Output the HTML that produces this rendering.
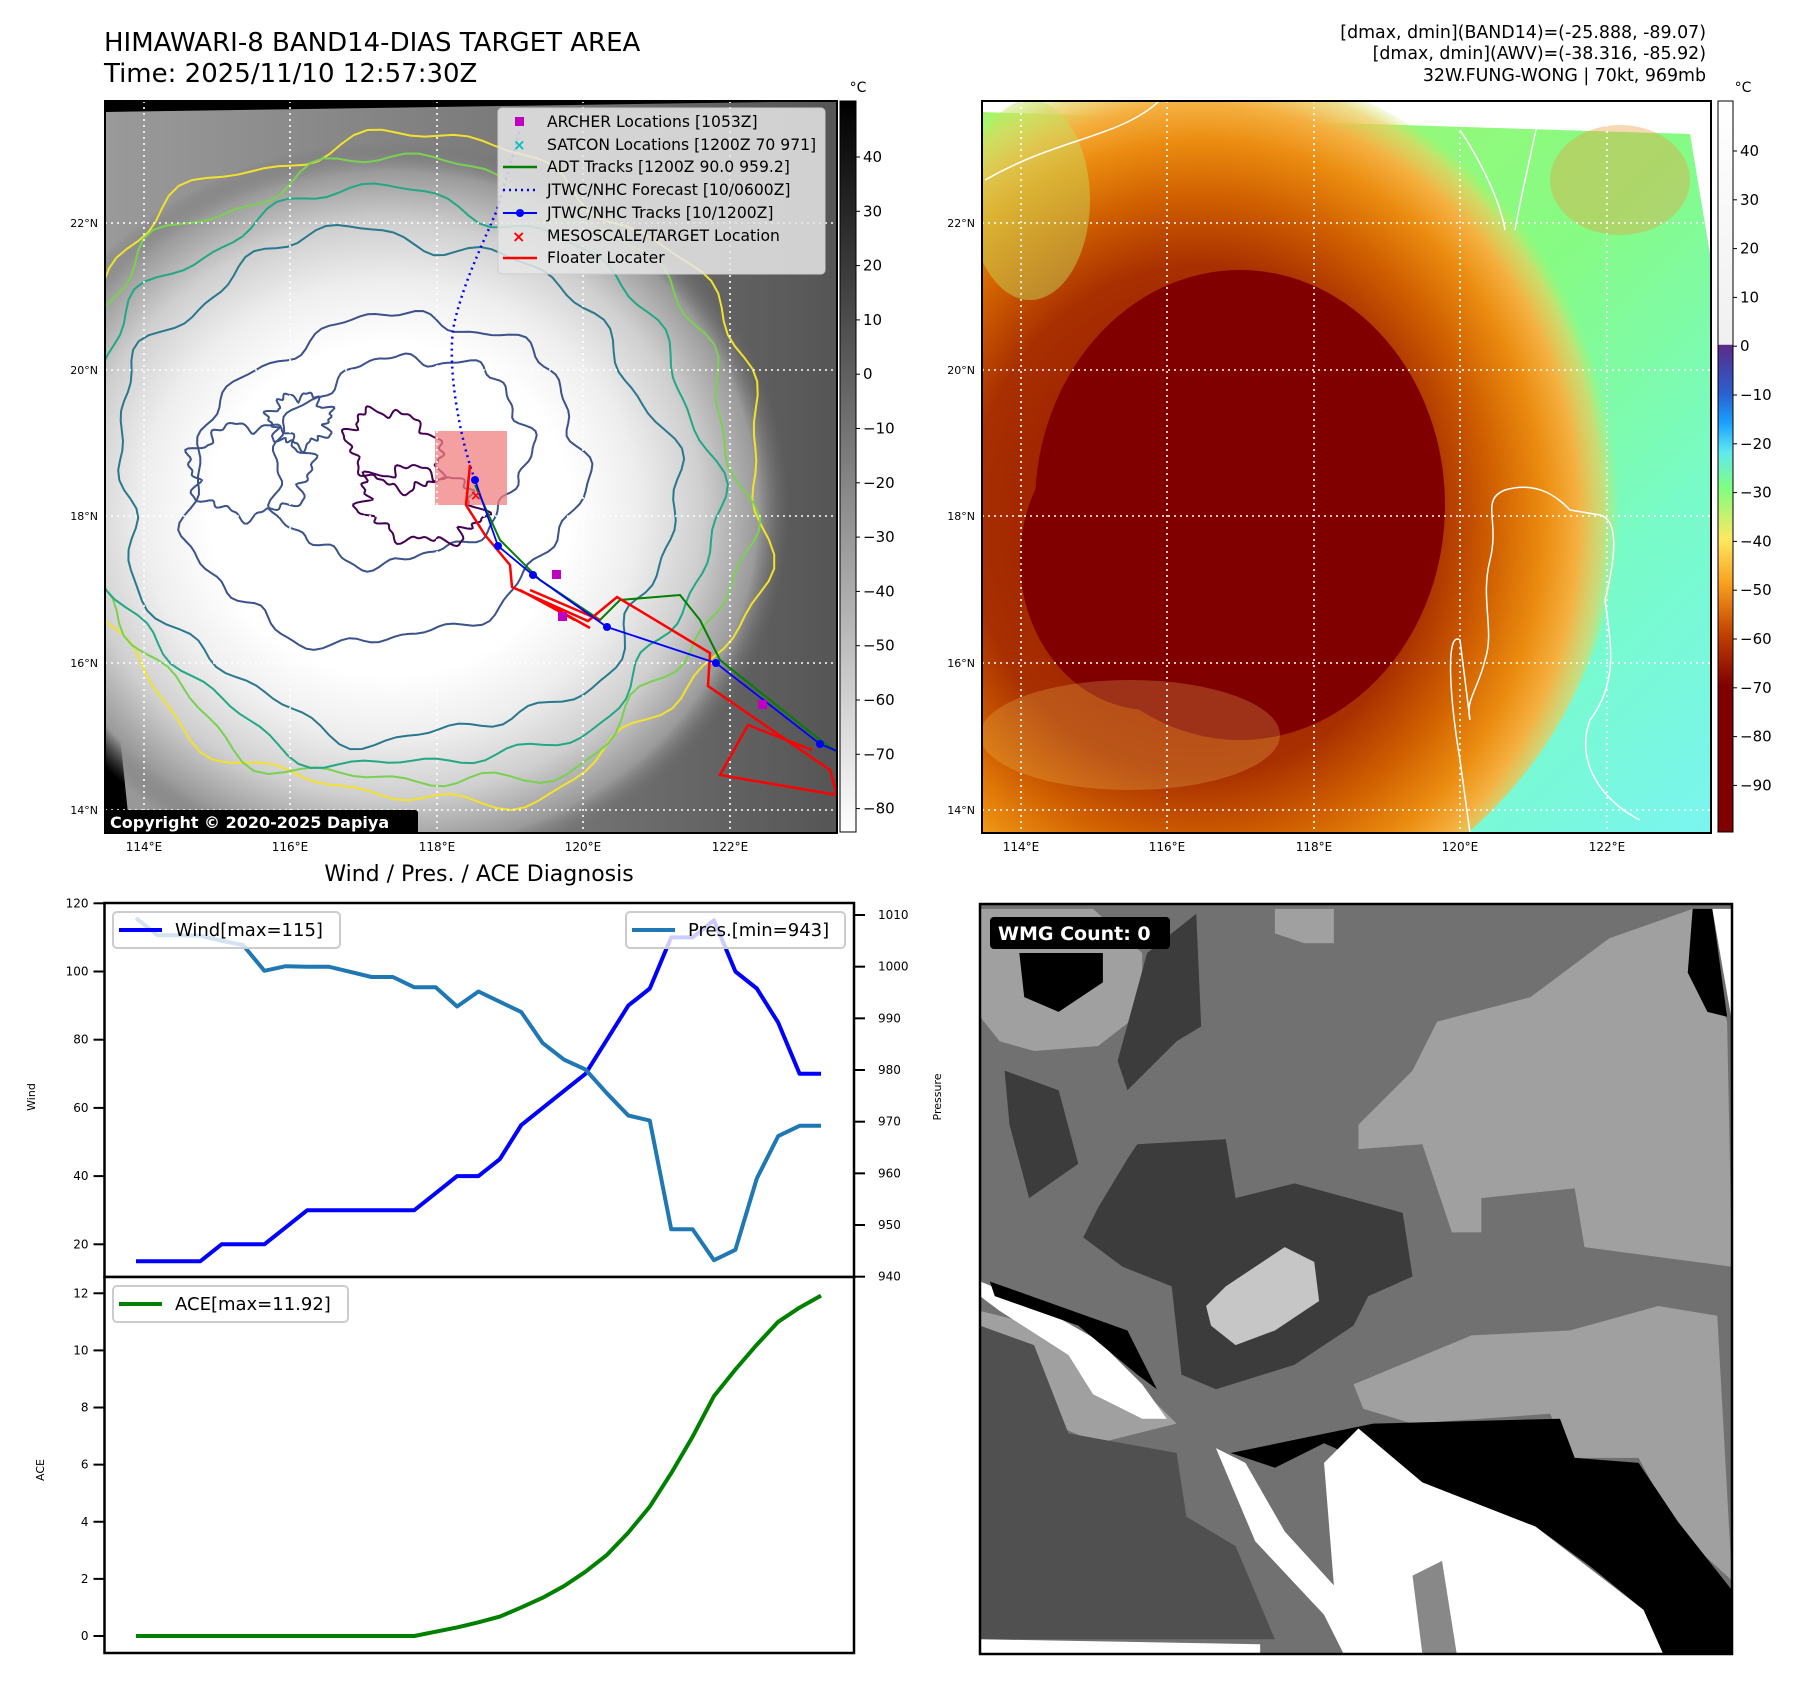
<!DOCTYPE html>
<html><head><meta charset="utf-8">
<style>
html,body{margin:0;padding:0;background:#fff;}
svg{display:block;font-family:"DejaVu Sans","Liberation Sans",sans-serif;}
</style></head>
<body>
<svg id="fig" width="1797" height="1690" viewBox="0 0 1797 1690" xmlns="http://www.w3.org/2000/svg">
<defs>
  <clipPath id="clipL"><rect x="105" y="101" width="732" height="732"/></clipPath>
  <clipPath id="clipR"><rect x="982" y="101" width="729" height="732"/></clipPath>
  <clipPath id="clipB"><rect x="980" y="904" width="752" height="750"/></clipPath>
  <radialGradient id="cloudWhite" gradientUnits="userSpaceOnUse" cx="390" cy="510" r="400" gradientTransform="translate(390 510) scale(1 0.92) translate(-390 -510)">
    <stop offset="0" stop-color="#ffffff"/>
    <stop offset="0.45" stop-color="#ffffff"/>
    <stop offset="0.62" stop-color="#eeeeee"/>
    <stop offset="0.78" stop-color="#cfcfcf"/>
    <stop offset="0.92" stop-color="#9a9a9a"/>
    <stop offset="1" stop-color="#6a6a6a" stop-opacity="0"/>
  </radialGradient>
  <linearGradient id="bgL" x1="0" y1="0" x2="1" y2="0">
    <stop offset="0" stop-color="#9a9a9a"/>
    <stop offset="0.6" stop-color="#777"/>
    <stop offset="1" stop-color="#555"/>
  </linearGradient>
  <linearGradient id="bgR" x1="0" y1="0" x2="1" y2="1">
    <stop offset="0" stop-color="#a8f56a"/>
    <stop offset="0.5" stop-color="#86fb84"/>
    <stop offset="0.75" stop-color="#78fbc8"/>
    <stop offset="1" stop-color="#7af5f0"/>
  </linearGradient>
  <radialGradient id="ringR" gradientUnits="userSpaceOnUse" cx="1200" cy="520" r="420" gradientTransform="translate(1200 520) scale(1 1.1) translate(-1200 -520)">
    <stop offset="0" stop-color="#900800"/>
    <stop offset="0.55" stop-color="#a83000"/>
    <stop offset="0.7" stop-color="#d06000"/>
    <stop offset="0.82" stop-color="#eb8c10"/>
    <stop offset="0.9" stop-color="#f5b040"/>
    <stop offset="0.96" stop-color="#e8d060" stop-opacity="0.7"/>
    <stop offset="1" stop-color="#c0f060" stop-opacity="0"/>
  </radialGradient>
  <linearGradient id="cbGray" x1="0" y1="0" x2="0" y2="1">
    <stop offset="0" stop-color="#000"/>
    <stop offset="1" stop-color="#fff"/>
  </linearGradient>
  <linearGradient id="cbColor" x1="0" y1="0" x2="0" y2="1">
    <stop offset="0" stop-color="#ffffff"/>
    <stop offset="0.333" stop-color="#f0f0f0"/>
    <stop offset="0.334" stop-color="#5a2a8a"/>
    <stop offset="0.40" stop-color="#2a60d0"/>
    <stop offset="0.44" stop-color="#1aa0ff"/>
    <stop offset="0.48" stop-color="#60e8f0"/>
    <stop offset="0.53" stop-color="#80ff80"/>
    <stop offset="0.6" stop-color="#ffe860"/>
    <stop offset="0.66" stop-color="#f8a020"/>
    <stop offset="0.73" stop-color="#c04000"/>
    <stop offset="0.8" stop-color="#800000"/>
    <stop offset="1" stop-color="#800000"/>
  </linearGradient>
</defs>

<!-- Header text -->
<text x="104" y="51" font-size="26">HIMAWARI-8 BAND14-DIAS TARGET AREA</text>
<text x="104" y="82" font-size="26">Time: 2025/11/10 12:57:30Z</text>
<text x="1706" y="38" font-size="17.4" text-anchor="end">[dmax, dmin](BAND14)=(-25.888, -89.07)</text>
<text x="1706" y="59" font-size="17.4" text-anchor="end">[dmax, dmin](AWV)=(-38.316, -85.92)</text>
<text x="1706" y="81" font-size="17.4" text-anchor="end">32W.FUNG-WONG | 70kt, 969mb</text>

<!-- LEFT MAP -->
<g clip-path="url(#clipL)">
  <rect x="105" y="101" width="732" height="732" fill="#000"/>
  <polygon points="106,112 837,101 837,833 130,833 106,600" fill="url(#bgL)"/>
  <rect x="105" y="101" width="732" height="732" fill="url(#cloudWhite)"/>
  <g id="contoursL" fill="none" stroke-width="2"></g>
  <rect x="435" y="431" width="72" height="74" fill="#f08080" opacity="0.75"/>
  <g id="gridL" stroke="#fff" stroke-width="1.6" stroke-dasharray="2,4"></g>
  <path d="M475,480 C460,440 445,360 455,320 C465,280 480,250 497,210 L520,130" fill="none" stroke="#0000ff" stroke-width="2.5" stroke-dasharray="2,4"/>
  <path d="M475,485 L500,540 L540,580 L600,620 L620,600 L680,595 L700,620 L720,660 L770,700 L820,740 L837,752" fill="none" stroke="#008000" stroke-width="2"/>
  <path d="M470,465 L466,505 L485,535 L510,565 L512,587 L588,621 L617,597 L710,653 L708,686 L830,770 L837,795 L720,775 L748,725 L812,750 M530,590 L600,620 M540,600 L590,628 M520,590 L575,620" fill="none" stroke="#ff0000" stroke-width="2.5"/>
  <polyline points="475,480 498,546 533,575 607,627 716,663 820,744 837,751" fill="none" stroke="#0000ff" stroke-width="1.8"/>
  <g fill="#0000ff">
    <circle cx="475" cy="480" r="4"/><circle cx="498" cy="546" r="4"/><circle cx="533" cy="575" r="4"/><circle cx="607" cy="627" r="4"/><circle cx="716" cy="663" r="4"/><circle cx="820" cy="744" r="4"/>
  </g>
  <g fill="#c000c0"><rect x="552" y="570" width="9" height="9"/><rect x="558" y="612" width="9" height="9"/><rect x="758" y="700" width="9" height="9"/></g>
  <text x="470" y="500" fill="#ff0000" font-size="14" font-weight="bold">×</text>
  <rect x="104" y="810" width="314" height="24" rx="3" fill="#000"/>
  <text x="110" y="828" font-size="16" font-weight="bold" fill="#fff">Copyright © 2020-2025 Dapiya</text>
</g>
<rect x="105" y="101" width="732" height="732" fill="none" stroke="#000" stroke-width="2"/>

<!-- Legend for left map -->
<g>
  <rect x="498" y="108" width="327" height="166" rx="4" fill="#e6e6e6" fill-opacity="0.85" stroke="#ccc"/>
  <rect x="515" y="117" width="9" height="9" fill="#c000c0"/>
  <text x="513" y="150" fill="#00c0c0" font-size="15" font-weight="bold">×</text>
  <line x1="503" y1="167" x2="537" y2="167" stroke="#008000" stroke-width="2.5"/>
  <line x1="503" y1="190" x2="537" y2="190" stroke="#0000ff" stroke-width="2.5" stroke-dasharray="2,4"/>
  <line x1="503" y1="213" x2="537" y2="213" stroke="#0000ff" stroke-width="2"/><circle cx="520" cy="213" r="4" fill="#0000ff"/>
  <text x="512" y="242" fill="#ff0000" font-size="16" font-weight="bold">×</text>
  <line x1="503" y1="258" x2="537" y2="258" stroke="#ff0000" stroke-width="2.5"/>
  <g font-size="15.6" fill="#000">
    <text x="547" y="127">ARCHER Locations [1053Z]</text>
    <text x="547" y="150">SATCON Locations [1200Z 70 971]</text>
    <text x="547" y="172">ADT Tracks [1200Z 90.0 959.2]</text>
    <text x="547" y="195">JTWC/NHC Forecast [10/0600Z]</text>
    <text x="547" y="218">JTWC/NHC Tracks [10/1200Z]</text>
    <text x="547" y="241">MESOSCALE/TARGET Location</text>
    <text x="547" y="263">Floater Locater</text>
  </g>
</g>

<!-- left colorbar -->
<g>
  <rect x="840" y="101" width="16" height="731" fill="url(#cbGray)" stroke="#000" stroke-width="1"/>
  <text x="858" y="92" font-size="14" text-anchor="middle">°C</text>
  <g id="cbLticks" font-size="15"></g>
</g>

<!-- RIGHT MAP -->
<g clip-path="url(#clipR)">
  <rect x="982" y="101" width="729" height="732" fill="#fff"/>
  <polygon points="982,112 1690,134 1711,260 1711,833 1008,833 982,720" fill="url(#bgR)"/>
  <ellipse cx="1180" cy="500" rx="440" ry="440" fill="url(#ringR)"/>
  <ellipse cx="1240" cy="505" rx="205" ry="235" fill="#800000"/>
  <ellipse cx="1150" cy="560" rx="130" ry="150" fill="#800000"/>
  <ellipse cx="1130" cy="735" rx="150" ry="55" fill="#f5c860" opacity="0.25"/>
  <ellipse cx="1030" cy="200" rx="60" ry="100" fill="#c8e060" opacity="0.45"/>
  <ellipse cx="1620" cy="180" rx="70" ry="55" fill="#e8a040" opacity="0.4"/>
  <g fill="none" stroke="#fff" stroke-width="1.5">
    <path d="M1505,490 C1480,500 1500,520 1490,560 C1480,600 1495,630 1485,660 C1478,690 1465,700 1470,720 L1460,640 C1445,630 1450,700 1460,760 L1470,833"/>
    <path d="M1505,490 C1540,480 1560,500 1570,510 L1600,515 C1620,520 1615,560 1605,600 C1610,640 1620,680 1590,720 C1575,760 1600,800 1640,820"/>
    <path d="M985,180 C1020,160 1050,150 1080,140 C1110,130 1140,120 1160,100"/>
    <path d="M1460,130 C1480,160 1500,200 1505,230 M1540,110 C1530,160 1520,200 1515,230"/>
  </g>
  <g id="gridR" stroke="#fff" stroke-width="1.6" stroke-dasharray="2,4"></g>
</g>
<rect x="982" y="101" width="729" height="732" fill="none" stroke="#000" stroke-width="2"/>

<g>
  <rect x="1718" y="101" width="15" height="731" fill="url(#cbColor)" stroke="#000" stroke-width="1"/>
  <text x="1743" y="92" font-size="14" text-anchor="middle">°C</text>
  <g id="cbRticks" font-size="15"></g>
</g>

<!-- lat/lon labels -->
<g id="geoLabels" font-size="12" fill="#000"></g>

<!-- CHART -->
<text x="479" y="881" font-size="22" text-anchor="middle">Wind / Pres. / ACE Diagnosis</text>
<g id="chart"></g>

<!-- BOTTOM RIGHT -->
<g clip-path="url(#clipB)">
  <g transform="translate(980,904) scale(0.4915 0.4902)">
    <rect x="0" y="0" width="1530" height="1530" fill="#717171"/>
    <polygon fill="#a0a0a0" points="930,240 1120,190 1280,70 1450,10 1520,240 1530,740 1230,700 1210,580 1020,600 1020,670 960,670 900,490 770,500 770,450 880,340"/>
    <polygon fill="#a0a0a0" points="600,10 720,10 720,80 660,80 600,60"/>
    <polygon fill="#a0a0a0" points="0,10 230,10 330,100 330,220 240,290 110,300 40,280 0,230"/>
    <polygon fill="#000" points="80,100 250,100 250,160 160,220 90,190"/>
    <polygon fill="#3c3c3c" points="340,100 440,20 450,250 400,280 300,380 280,320"/>
    <polygon fill="#3c3c3c" points="50,340 160,380 200,530 100,600 60,450"/>
    <polygon fill="#3c3c3c" points="210,680 240,620 300,520 320,490 500,480 520,600 640,570 860,630 880,760 790,800 760,860 640,940 480,990 410,960 390,780 290,740"/>
    <polygon fill="#c6c6c6" points="460,820 500,780 620,700 680,730 690,810 600,870 520,900 470,860"/>
    <polygon fill="#a0a0a0" points="760,980 1000,880 1200,870 1380,820 1500,840 1530,1380 1420,1280 1340,1130 1200,1130 1160,1040 880,1060 780,1030"/>
    <polygon fill="#a0a0a0" points="0,830 120,860 200,930 340,1000 400,1060 240,1100 170,1070 100,950 0,900"/>
    <polygon fill="#505050" points="0,860 110,900 180,1080 400,1120 420,1250 520,1310 600,1500 0,1500"/>
    <polygon fill="#000" points="510,1120 800,1060 1180,1050 1210,1130 1340,1140 1420,1260 1530,1400 1530,1530 1390,1530 1350,1440 1240,1350 1130,1270 1020,1230 880,1180 700,1100 600,1150"/>
    <polygon fill="#fff" points="480,1110 560,1300 700,1450 740,1530 1390,1530 1350,1440 1130,1270 900,1180 770,1070 700,1140 720,1390 620,1280 540,1140"/>
    <polygon fill="#888" points="880,1370 940,1340 970,1530 900,1530"/>
    <polygon fill="#fff" points="0,770 100,810 240,890 330,980 380,1050 330,1050 230,1000 180,920 40,830 0,800"/>
    <polygon fill="#000" points="20,770 300,870 360,990 320,960 200,860 30,800"/>
    <polygon fill="#fff" points="0,1500 570,1510 570,1530 0,1530"/>
    <polygon fill="#000" points="1450,10 1490,10 1520,230 1480,220 1440,140"/>
    <polygon fill="#fff" points="1490,10 1530,10 1530,240"/>
  </g>
  <rect x="990" y="917" width="180" height="32" rx="4" fill="#000"/>
  <text x="998" y="940" font-size="19" font-weight="bold" fill="#fff">WMG Count: 0</text>
</g>
<rect x="980" y="904" width="752" height="750" fill="none" stroke="#000" stroke-width="2.5"/>

<script>
// ----- chart data -----
const steps = [0,1,2,3,4,5,6,7,8,9,10,11,12,13,14,15,16,17,18,19,20,21,22,23,24,25,26,27,28,29,30,31,32];
const windValues = [15,15,15,15,20,20,20,25,30,30,30,30,30,30,35,40,40,45,55,60,65,70,80,90,95,110,110,115,100,95,85,70,70];
const pressureValues = [1009.4,1006.1,1006.1,1006,1005,1004.2,999.2,1000.1,1000,1000,999,998,998,996,996,992.3,995.2,993.2,991.2,985.2,982,980.1,975.5,971.2,970.2,949.2,949.2,943.2,945.2,959,967.2,969.2,969.2];
const aceValues = [0,0,0,0,0,0,0,0,0,0,0,0,0,0,0.15,0.3,0.48,0.68,1.0,1.34,1.75,2.25,2.84,3.62,4.53,5.7,6.98,8.4,9.33,10.2,11.0,11.5,11.92];
const windTicks = [20,40,60,80,100,120];
const pressureTicks = [940,950,960,970,980,990,1000,1010];
const aceTicks = [0,2,4,6,8,10,12];
const lonLabels = ["114°E","116°E","118°E","120°E","122°E"];
const latLabels = ["22°N","20°N","18°N","16°N","14°N"];
const cbLTicks = [40,30,20,10,0,-10,-20,-30,-40,-50,-60,-70,-80];
const cbRTicks = [40,30,20,10,0,-10,-20,-30,-40,-50,-60,-70,-80,-90];

const NS = "http://www.w3.org/2000/svg";
function mk(tag, attrs, parent){const e=document.createElementNS(NS,tag);for(const k in attrs)e.setAttribute(k,attrs[k]);parent.appendChild(e);return e;}

const X0=104.5, X1=854, YT=903, YM=1277, YB=1653;
function xS(i){return 136 + i*(821-136)/(steps.length-1);}
function wY(v){return 903.3 + (120-v)*3.41;}
function pY(v){return 915 + (1010-v)*5.167;}
function aY(v){return 1636 - v*28.56;}

const chart=document.getElementById('chart');
function pathOf(vals, yf){return vals.map((v,i)=>(i?'L':'M')+xS(steps[i]).toFixed(1)+','+yf(v).toFixed(1)).join(' ');}

const f1=mk('rect',{x:X0,y:YT,width:X1-X0,height:YM-YT,fill:'#fff',stroke:'#000','stroke-width':2.5},chart);


const f2=mk('rect',{x:X0,y:YM,width:X1-X0,height:YB-YM,fill:'#fff',stroke:'#000','stroke-width':2.5},chart);



windTicks.forEach(v=>{const y=wY(v);
  mk('line',{x1:X0-11,x2:X0,y1:y,y2:y,stroke:'#000','stroke-width':2},chart);
  const t=mk('text',{x:X0-16,y:y+4,'font-size':12,'text-anchor':'end'},chart);t.textContent=v;
  
  
});
pressureTicks.forEach(v=>{const y=pY(v);
  mk('line',{x1:X1,x2:X1+11,y1:y,y2:y,stroke:'#000','stroke-width':2},chart);
  const t=mk('text',{x:X1+24,y:y+4,'font-size':12},chart);t.textContent=v;
  
  
});
aceTicks.forEach(v=>{const y=aY(v);
  mk('line',{x1:X0-11,x2:X0,y1:y,y2:y,stroke:'#000','stroke-width':2},chart);
  const t=mk('text',{x:X0-16,y:y+4,'font-size':12,'text-anchor':'end'},chart);t.textContent=v;
  
  
});
let at=mk('text',{x:0,y:0,'font-size':11,'text-anchor':'middle',transform:'translate(35,1097) rotate(-90)'},chart);at.textContent='Wind';


at=mk('text',{x:0,y:0,'font-size':11,'text-anchor':'middle',transform:'translate(941,1097) rotate(-90)'},chart);at.textContent='Pressure';


at=mk('text',{x:0,y:0,'font-size':11,'text-anchor':'middle',transform:'translate(44,1470) rotate(-90)'},chart);at.textContent='ACE';



const wl=mk('path',{d:pathOf(windValues,wY),fill:'none',stroke:'#0000ff','stroke-width':4,'stroke-linejoin':'round'},chart);


const pl=mk('path',{d:pathOf(pressureValues,pY),fill:'none',stroke:'#1f77b4','stroke-width':4,'stroke-linejoin':'round'},chart);


const al=mk('path',{d:pathOf(aceValues,aY),fill:'none',stroke:'#008000','stroke-width':4,'stroke-linejoin':'round'},chart);



function legend(x,y,w,color,label,name){
  const g=mk('g',{},chart);
  
  
  mk('rect',{x:x,y:y,width:w,height:36,rx:4,fill:'#fff','fill-opacity':0.8,stroke:'#ccc','stroke-width':2},g);
  mk('line',{x1:x+6,x2:x+49,y1:y+18,y2:y+18,stroke:color,'stroke-width':4},g);
  const t=mk('text',{x:x+62,y:y+24,'font-size':18},g);t.textContent=label;
}
legend(113,912,227,'#0000ff','Wind[max=115]','wind-legend');
legend(626,912,219,'#1f77b4','Pres.[min=943]','pressure-legend');
legend(113,1286,235,'#008000','ACE[max=11.92]','ace-legend');

// ----- map grids & labels -----
const lonPx=[144,290,437,583,730];
const latPx=[223,370,516,663,810];
const gL=document.getElementById('gridL'), gR=document.getElementById('gridR');
lonPx.forEach(x=>{mk('line',{x1:x,x2:x,y1:101,y2:833},gL);mk('line',{x1:x+877,x2:x+877,y1:101,y2:833},gR);});
latPx.forEach(y=>{mk('line',{x1:105,x2:837,y1:y,y2:y},gL);mk('line',{x1:982,x2:1711,y1:y,y2:y},gR);});
const gl=document.getElementById('geoLabels');
lonLabels.forEach((s,i)=>{
  let t=mk('text',{x:lonPx[i],y:851,'text-anchor':'middle'},gl);t.textContent=s;
  
  
  t=mk('text',{x:lonPx[i]+877,y:851,'text-anchor':'middle'},gl);t.textContent=s;
  
  
});
latLabels.forEach((s,i)=>{
  let t=mk('text',{x:98,y:latPx[i]+4,'text-anchor':'end','font-size':11},gl);t.textContent=s;
  
  
  t=mk('text',{x:975,y:latPx[i]+4,'text-anchor':'end','font-size':11},gl);t.textContent=s;
  
  
});
const cbl=document.getElementById('cbLticks');
cbLTicks.forEach(v=>{const y=157+(40-v)*5.43;
  mk('line',{x1:856,x2:860,y1:y,y2:y,stroke:'#000'},cbl);
  const t=mk('text',{x:863,y:y+5},cbl);t.textContent=(v<0?'\u2212'+(-v):v);
  
  
});
const cbr=document.getElementById('cbRticks');
cbRTicks.forEach(v=>{const y=151+(40-v)*4.88;
  mk('line',{x1:1733,x2:1737,y1:y,y2:y,stroke:'#000'},cbr);
  const t=mk('text',{x:1740,y:y+5},cbr);t.textContent=(v<0?'\u2212'+(-v):v);
  
  
});

// ----- decorative wobbly contours on left map -----
const cg=document.getElementById('contoursL');
function wobble(cx,cy,rx,ry,rot,amp,seed){
  let d='';const n=160;
  for(let k=0;k<=n;k++){const a=k/n*Math.PI*2;
    const r=1+amp*(Math.sin(a*7+seed)*0.5+Math.sin(a*13+seed*2)*0.3+Math.sin(a*23+seed*3)*0.2);
    let x=rx*r*Math.cos(a), y=ry*r*Math.sin(a);
    const xr=x*Math.cos(rot)-y*Math.sin(rot), yr=x*Math.sin(rot)+y*Math.cos(rot);
    d+=(k?'L':'M')+(cx+xr).toFixed(1)+','+(cy+yr).toFixed(1);}
  return d+'Z';
}
[[410,470,360,330,0.3,0.06,1,'#f2e22c'],[405,475,340,310,0.3,0.07,2,'#7ad151'],[400,480,315,285,0.3,0.06,3,'#22a884'],
 [395,485,280,250,0.3,0.07,4,'#2a788e'],[385,480,200,160,-0.3,0.08,5,'#3b528b'],[400,460,130,100,-0.3,0.1,6,'#3b528b'],
 [395,450,50,35,0.5,0.2,7,'#440154'],[420,505,60,35,0.2,0.25,8,'#440154'],[250,470,60,45,0,0.2,9,'#3b528b'],[300,420,30,25,0,0.3,10,'#3b528b']
].forEach(c=>{mk('path',{d:wobble(c[0],c[1],c[2],c[3],c[4],c[5],c[6]),stroke:c[7]},cg);});
</script>
</svg>
</body></html>
